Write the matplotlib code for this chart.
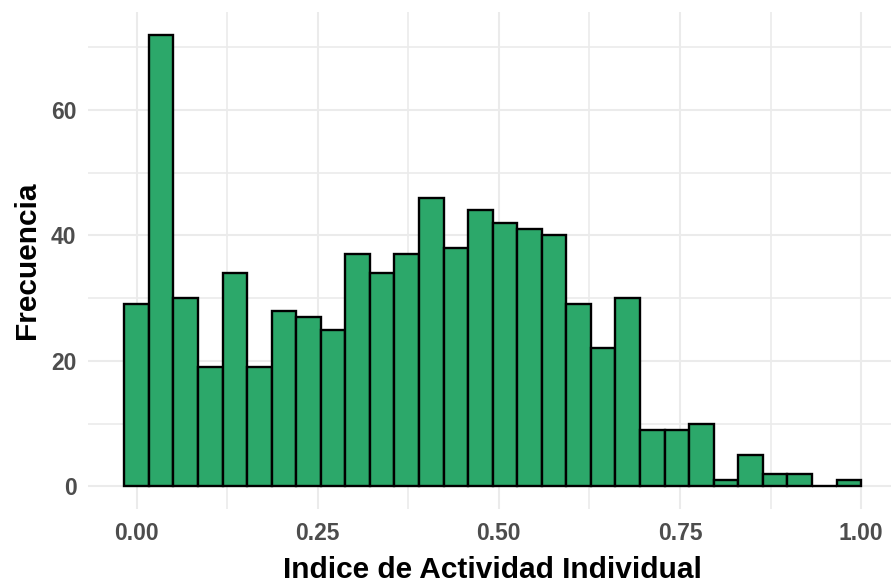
import matplotlib
matplotlib.use("Agg")
import matplotlib.pyplot as plt
import numpy as np

counts = [29, 72, 30, 19, 34, 19, 28, 27, 25, 37, 34, 37, 46, 38, 44,
          42, 41, 40, 29, 22, 30, 9, 9, 10, 1, 5, 2, 2, 0, 1]
x_min, x_max = 0.0, 0.983
x_ticks = [0.00, 0.25, 0.50, 0.75, 1.00]
x_labels = ["0.00", "0.25", "0.50", "0.75", "1.00"]
y_ticks = [0, 20, 40, 60]
x_title = "Indice de Actividad Individual"
y_title = "Frecuencia"

n = len(counts)
width = (x_max - x_min) / (n - 1)
centers = x_min + width * np.arange(n)

fig = plt.figure(figsize=(8.91, 5.83), dpi=100)
ax = fig.add_axes([87.5/891, 1 - 509/583, 810.4/891, (509 - 12)/583])

ax.bar(centers, counts, width=width, color="#2ca86a", edgecolor="black",
       linewidth=1.7, zorder=3)

left = centers[0] - width / 2
right = centers[-1] + width / 2
rng = right - left
ax.set_xlim(left - 0.05 * rng, right + 0.05 * rng)
ymax = max(counts)
ax.set_ylim(-0.05 * ymax, ymax * 1.05)

ax.set_xticks(x_ticks)
ax.set_xticklabels(x_labels)
ax.set_xticks([0.125, 0.375, 0.625, 0.875], minor=True)
ax.set_yticks(y_ticks)
ax.set_yticks([10, 30, 50, 70], minor=True)

ax.grid(True, which="major", color="#ebebeb", linewidth=1.5, zorder=0)
ax.grid(True, which="minor", color="#ebebeb", linewidth=1.2, zorder=0)
for s in ax.spines.values():
    s.set_visible(False)
ax.tick_params(which="both", length=0)
ax.tick_params(axis="x", pad=9)
ax.tick_params(axis="y", pad=8)
for lab in ax.get_xticklabels() + ax.get_yticklabels():
    lab.set_fontfamily("Liberation Sans")
    lab.set_fontweight("bold")
    lab.set_fontsize(16.5)
    lab.set_color("#4d4d4d")

ax.set_xlabel(x_title, fontfamily="Liberation Sans", fontweight="bold",
              fontsize=21.5, color="black", labelpad=8)
ax.set_ylabel(y_title, fontfamily="Liberation Sans", fontweight="bold",
              fontsize=21.5, color="black", labelpad=7)

fig.savefig("out.png", dpi=100, facecolor="white")
